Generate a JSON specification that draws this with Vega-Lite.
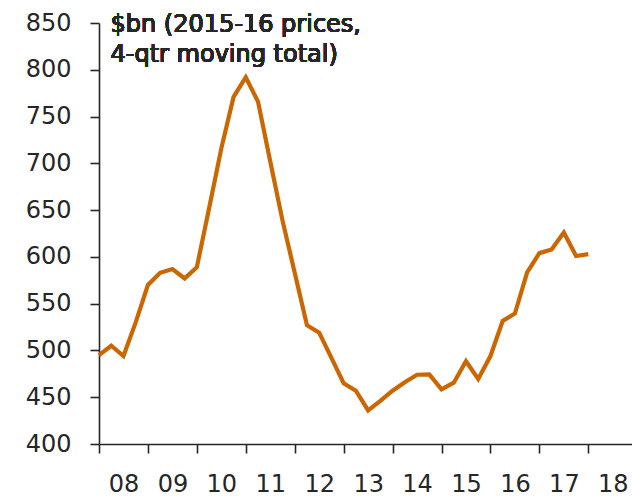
{
  "$schema": "https://vega.github.io/schema/vega-lite/v6.json",
  "autosize": "none",
  "width": 533,
  "height": 421,
  "padding": {"left": 99, "top": 23, "right": 0, "bottom": 55},
  "background": "white",
  "config": {
    "view": {"stroke": null},
    "font": "DejaVu Sans",
    "axis": {
      "labelFont": "DejaVu Sans",
      "labelFontSize": 24,
      "labelColor": "#262626",
      "domainColor": "#262626",
      "tickColor": "#262626",
      "domainWidth": 1.6,
      "tickWidth": 1.6,
      "tickSize": 9,
      "grid": false,
      "title": null
    }
  },
  "data": {
    "values": [
      {"t": 2008.0, "v": 495},
      {"t": 2008.25, "v": 505},
      {"t": 2008.5, "v": 494},
      {"t": 2008.75, "v": 530},
      {"t": 2009.0, "v": 570},
      {"t": 2009.25, "v": 583},
      {"t": 2009.5, "v": 587},
      {"t": 2009.75, "v": 577},
      {"t": 2010.0, "v": 589},
      {"t": 2010.25, "v": 652},
      {"t": 2010.5, "v": 716},
      {"t": 2010.75, "v": 771},
      {"t": 2011.0, "v": 792},
      {"t": 2011.25, "v": 766},
      {"t": 2011.5, "v": 702},
      {"t": 2011.75, "v": 639},
      {"t": 2012.0, "v": 583},
      {"t": 2012.25, "v": 527},
      {"t": 2012.5, "v": 519},
      {"t": 2012.75, "v": 492},
      {"t": 2013.0, "v": 465},
      {"t": 2013.25, "v": 457},
      {"t": 2013.5, "v": 436},
      {"t": 2013.75, "v": 446},
      {"t": 2014.0, "v": 457},
      {"t": 2014.25, "v": 466},
      {"t": 2014.5, "v": 474},
      {"t": 2014.75, "v": 474.5},
      {"t": 2015.0, "v": 458.5},
      {"t": 2015.25, "v": 465.5},
      {"t": 2015.5, "v": 488.5},
      {"t": 2015.75, "v": 469.5},
      {"t": 2016.0, "v": 494},
      {"t": 2016.25, "v": 531.5},
      {"t": 2016.5, "v": 539.5},
      {"t": 2016.75, "v": 583.5},
      {"t": 2017.0, "v": 604},
      {"t": 2017.25, "v": 608},
      {"t": 2017.5, "v": 626},
      {"t": 2017.75, "v": 601},
      {"t": 2018.0, "v": 603}
    ]
  },
  "layer": [
    {
      "mark": {"type": "line", "color": "#cc6600", "strokeWidth": 4.2, "strokeJoin": "miter", "strokeCap": "butt"},
      "encoding": {
        "x": {
          "field": "t",
          "type": "quantitative",
          "scale": {"domain": [2008, 2018.893], "nice": false, "zero": false},
          "axis": {
            "values": [2008, 2009, 2010, 2011, 2012, 2013, 2014, 2015, 2016, 2017, 2018],
            "labelExpr": "substring(toString(datum.value), 2, 4)",
            "labelOffset": 24.5,
            "labelFlush": false,
            "labelOverlap": false,
            "labelBound": false,
            "labelPadding": 19
          }
        },
        "y": {
          "field": "v",
          "type": "quantitative",
          "scale": {"domain": [400, 850], "nice": false, "zero": false},
          "axis": {
            "values": [400, 450, 500, 550, 600, 650, 700, 750, 800, 850],
            "labelPadding": 19,
            "labelFlush": false,
            "labelOverlap": false
          }
        }
      }
    },
    {
      "mark": {
        "type": "text",
        "text": ["$bn (2015-16 prices,", "4-qtr moving total)"],
        "align": "left",
        "baseline": "alphabetic",
        "lineHeight": 30,
        "fontSize": 24,
        "font": "DejaVu Sans",
        "color": "#262626",
        "clip": false
      },
      "encoding": {
        "x": {"datum": 2008.235, "type": "quantitative"},
        "y": {"datum": 840.4, "type": "quantitative"}
      }
    }
  ]
}
